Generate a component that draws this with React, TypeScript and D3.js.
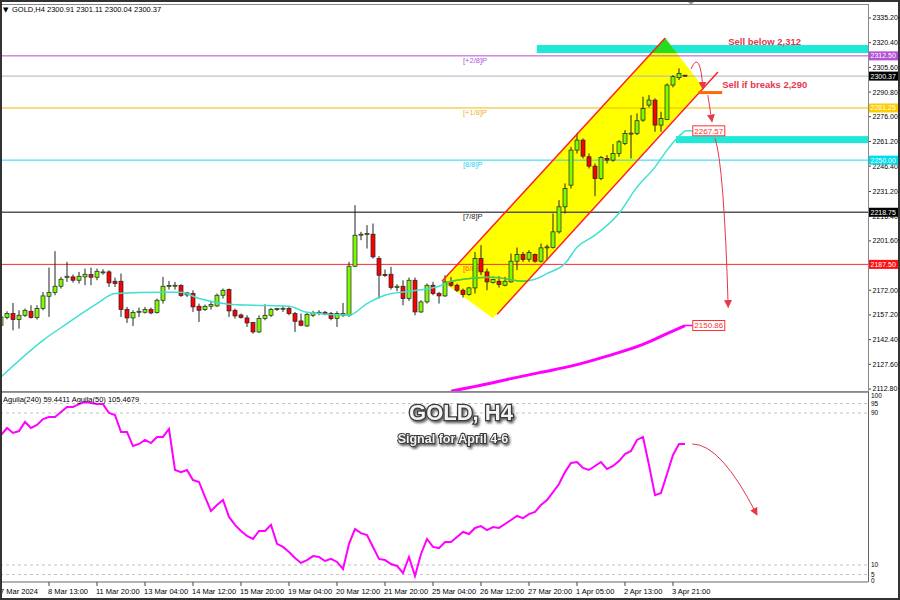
import * as d3 from "d3";

// [open, high, low, close] per H4 bar, 7 Mar 2024 -> 4 Apr 2024
const candles: [number, number, number, number][] = [
  [2151, 2157, 2150, 2156], [2155.6, 2159.4, 2154.6, 2158], [2158, 2164.4, 2148, 2154.4], [2154.4, 2160, 2149, 2157],
  [2157, 2161, 2156, 2160], [2159.4, 2163, 2155, 2155.6], [2155.6, 2163, 2154.4, 2161], [2161, 2171, 2160, 2168.6],
  [2168.4, 2185.6, 2156, 2170.6], [2170.6, 2195.4, 2169, 2174.4], [2174.4, 2180, 2173, 2178.6], [2179.6, 2189, 2177, 2180.4],
  [2180, 2181.4, 2176.6, 2178], [2178, 2183, 2176, 2180.4], [2180, 2185, 2175, 2181.6], [2181.4, 2185.6, 2175, 2179.8],
  [2179.8, 2185, 2178, 2183.4], [2182.6, 2184.6, 2181.4, 2183], [2183, 2184, 2174, 2176.4], [2177.4, 2179.6, 2174, 2176],
  [2177.4, 2182, 2156, 2160.4], [2160.4, 2162, 2152.4, 2155.4], [2155.4, 2160, 2150.6, 2158.6], [2158.8, 2161.6, 2156, 2159.4],
  [2158.8, 2162, 2158, 2160.4], [2160.4, 2161.6, 2157.6, 2158.4], [2158.6, 2167, 2158, 2166], [2166, 2180, 2164, 2174.4],
  [2174.4, 2177.6, 2172.4, 2174.8], [2174.4, 2177, 2172.4, 2175], [2174.8, 2175.6, 2168, 2168.8], [2169.2, 2171, 2168, 2170.4],
  [2170, 2172, 2159, 2162], [2162.4, 2164, 2153, 2160], [2160.4, 2163.4, 2159.6, 2162.4], [2162.4, 2165, 2160.4, 2163.4],
  [2162.6, 2170, 2162, 2169], [2169, 2173, 2167, 2172], [2172.4, 2173, 2156, 2159.6], [2160, 2161, 2155, 2156.6],
  [2157.2, 2158, 2155, 2155.6], [2155.4, 2157, 2150, 2152.4], [2152.6, 2153, 2146, 2147], [2147, 2157, 2146.4, 2155],
  [2155, 2163.6, 2154, 2157], [2157, 2161.4, 2156, 2160.4], [2160.4, 2161.4, 2159.6, 2161], [2160.6, 2162.4, 2159, 2161.2],
  [2161, 2162.4, 2157, 2158], [2158, 2159, 2147, 2153.4], [2153.6, 2158, 2150.4, 2151], [2150.6, 2158.4, 2150, 2157.4],
  [2157, 2159.6, 2156, 2158.6], [2158, 2160, 2157, 2158.8], [2158.8, 2159.6, 2157, 2157.6], [2158, 2159, 2154, 2155],
  [2155, 2159.4, 2150, 2158], [2157, 2164.4, 2156, 2158], [2157, 2189, 2156, 2186.4], [2186.4, 2223, 2186, 2205],
  [2205, 2207, 2202, 2205.6], [2205.4, 2211, 2197, 2206], [2205.6, 2212, 2191, 2192], [2191, 2192.4, 2167, 2181],
  [2181.4, 2184.4, 2180, 2181], [2181.6, 2186, 2172.4, 2173.6], [2173.6, 2175.6, 2171.4, 2174.4], [2174.4, 2178, 2163, 2167],
  [2167, 2179.6, 2165.6, 2178], [2178, 2179.6, 2157, 2159], [2159, 2166, 2158.4, 2165], [2165, 2176, 2164, 2175],
  [2175, 2177, 2169, 2170], [2170, 2171, 2164, 2168.6], [2168.6, 2181, 2168, 2177], [2177, 2180, 2174, 2175],
  [2175, 2176, 2171, 2172], [2172, 2173, 2167.6, 2169.4], [2169.4, 2174, 2168.8, 2173.4], [2173.4, 2195, 2170, 2191],
  [2191, 2199, 2181, 2183], [2183, 2185, 2172, 2177], [2176.6, 2179, 2176, 2178.4], [2177.4, 2180.4, 2173.6, 2175.4],
  [2175, 2180, 2174.4, 2177.4], [2177, 2194, 2176.6, 2189.4], [2189.4, 2197.6, 2184, 2193.4], [2193.4, 2195, 2189, 2190.4],
  [2190.6, 2196, 2189, 2194.6], [2193.4, 2194, 2188.6, 2189.4], [2189.4, 2200, 2188.6, 2197.4], [2197.4, 2199.4, 2190, 2198],
  [2197.6, 2218, 2197, 2207], [2207, 2226, 2206, 2222], [2222, 2236, 2218, 2233], [2235, 2258, 2233, 2256],
  [2256, 2266, 2254, 2262], [2262, 2263, 2251, 2252.4], [2252, 2254, 2245, 2246.4], [2246.4, 2248, 2228.4, 2239],
  [2239, 2252.5, 2238, 2251.6], [2251, 2253, 2248, 2250], [2250, 2259.6, 2249, 2254], [2254, 2262, 2252, 2261],
  [2260, 2268, 2259, 2266], [2266, 2277, 2251, 2266.2], [2266, 2278, 2265, 2273.6], [2274, 2288, 2273, 2281],
  [2283, 2289, 2281.6, 2286], [2286, 2287, 2267, 2271], [2271, 2279, 2267, 2275], [2274.4, 2296, 2274, 2295],
  [2295, 2301, 2293.6, 2300], [2299.4, 2305, 2298, 2302], [2300.91, 2301.11, 2300.04, 2300.37],
];

// [bar index, price]
const maFast: [number, number][] = [
  [0, 2120], [7, 2142], [11, 2152], [16, 2164], [19, 2170], [27, 2170.8], [30, 2170.8], [33, 2167],
  [38, 2163.6], [42, 2163], [48, 2162.4], [51, 2158.8], [58, 2157], [61, 2164], [64, 2169], [68, 2171.4],
  [73, 2174.4], [75, 2177.4], [82, 2179.8], [87, 2177.4], [89, 2178.6], [91, 2182], [94, 2188], [96, 2197.8],
  [99, 2205], [103, 2218.2], [106, 2233.8], [109, 2245.8], [111, 2256], [113, 2264.4], [114, 2267.57],
];
const maSlow: [number, number][] = [
  [75, 2111.5], [80, 2115], [85, 2119], [90, 2122.8], [95, 2126.5], [101, 2132.5], [107, 2139.5], [111, 2146], [114, 2150.86],
];

const aguila = [
  78.4, 82.1, 79.5, 80.5, 85.3, 82.1, 83.7, 86.8, 87.9, 87.9, 90.5, 93.2, 93.2, 94.7, 95.8, 95.3,
  94.7, 94.7, 90, 88.9, 80, 80, 72.6, 73.7, 75.8, 74.2, 77.4, 77.4, 81.6, 60, 58.9, 60,
  54.7, 53.7, 45.8, 38.4, 41.6, 44.2, 35.3, 31.1, 27.9, 25.3, 23.7, 27.9, 27.9, 31.1, 21.1, 19.5,
  16.8, 13.7, 11.1, 12.6, 14.7, 14.2, 12.1, 13.2, 11.6, 7.9, 21.1, 28.9, 26.8, 25.8, 19.5, 13.2,
  12.6, 10.5, 9.5, 5.8, 14.2, 4.2, 15.8, 23.7, 19.5, 18.9, 22.1, 22.1, 24.7, 27.4, 26.3, 29.5,
  30.5, 28.4, 30, 29.5, 31.6, 33.7, 35.8, 34.7, 36.8, 37.9, 41.6, 44.2, 48.4, 52.6, 58.9, 63.7,
  64.2, 61.1, 60, 62.1, 64.2, 60.5, 62.1, 64.7, 68.4, 70, 75.8, 77.4, 62.6, 46.8, 47.9, 57.9,
  67.9, 73.7, 73.7,
];

const priceTicks = [2335.2, 2320.4, 2305.6, 2290.8, 2276.0, 2261.2, 2246.4, 2231.2, 2216.4, 2201.6, 2172.0, 2157.2, 2142.4, 2127.6, 2112.8];
const timeLabels = ["7 Mar 2024", "8 Mar 13:00", "11 Mar 20:00", "13 Mar 04:00", "14 Mar 12:00", "15 Mar 20:00", "19 Mar 04:00",
  "20 Mar 12:00", "21 Mar 20:00", "25 Mar 04:00", "26 Mar 12:00", "27 Mar 20:00", "1 Apr 05:00", "2 Apr 13:00", "3 Apr 21:00"];
const levelValues = [2312.5, 2281.25, 2250, 2218.75, 2187.5];
const levelNames = ["[+2/8]P", "[+1/8]P", "[8/8]P", "[7/8]P", "[6/8]P"];
const bidPrice = 2300.37;
const indLevels = [95, 90, 10, 5];
const indLabels = [100, 95, 90, 10, 5, 0];

// drawn objects, in [bar index, price]
const channelArea: [number, number][] = [[73.5, 2177.4], [110.7, 2323.2], [117, 2293.8], [82, 2155.2]];
const channelUpper: [number, number][] = [[73.5, 2177.4], [110.7, 2323.2]];
const channelLower: [number, number][] = [[82.7, 2157.6], [119.5, 2302.8]];
const zoneTop: [number, number, number] = [89.3, 2314.2, 2319];
const zoneLow: [number, number, number] = [112.5, 2260.2, 2264.4];
const sellBreak: [number, number, number] = [116.2, 120.2, 2290.5];
const arrowA: [number, number][] = [[115, 2304.6], [116.5, 2317.2], [117, 2292.6]];
const arrowB: [number, number][] = [[117.8, 2289], [118.5, 2273]];
const arrowC: [number, number][] = [[119, 2263.2], [120.5, 2247], [121.2, 2161.8]];
const arrowInd: [number, number][] = [[115.2, 73.7], [120, 73.7], [126, 36.3]];

const font = "'Liberation Sans', Arial, sans-serif";
const levelColors = ["#b24fd6", "#f2b705", "#22d6f2", "#555555", "#ff2a2a"];
const levelTextColors = ["#b24fd6", "#f0b030", "#22d0f0", "#222222", "#ff5a1a"];
const levelBg = ["#b452d8", "#ffcc00", "#00dcf0", "#000000", "#ff1010"];
const RED = "#e8364a";

export default function App() {
  const x = d3.scaleLinear().domain([0, 144]).range([1, 865]);
  const y = d3.scaleLinear().domain([2112.8, 2335.2]).range([389, 18]);
  const yi = d3.scaleLinear().domain([10, 90]).range([565, 413]);
  const pt = (d: [number, number]) => [x(d[0]), y(d[1])];
  const maLine = d3.line<[number, number]>().x((d) => x(d[0])).y((d) => y(d[1])).curve(d3.curveMonotoneX);
  const indLine = d3.line<number>().x((_, i) => x(i)).y((d) => yi(d));
  const poly = channelArea.map(pt).map((p) => p.join(",")).join(" ");
  const quad = (pts: number[][]) => {
    const p = d3.path();
    p.moveTo(pts[0][0], pts[0][1]);
    p.quadraticCurveTo(pts[1][0], pts[1][1], pts[2][0], pts[2][1]);
    return p.toString();
  };
  const R = 868;
  const lastFast = maFast[maFast.length - 1];
  const lastSlow = maSlow[maSlow.length - 1];

  const priceLabel = (v: number, bg: string, key: string) => (
    <g key={key}>
      <rect x={869} y={y(v) - 4.5} width={30} height={9} fill={bg} />
      <text x={870.5} y={y(v)} dy="0.35em" fontSize={7} fill="#fff" fontFamily={font}>{v.toFixed(2)}</text>
    </g>
  );
  const valueBox = (d: [number, number], key: string) => (
    <g key={key}>
      <rect x={x(115.3)} y={y(d[1]) - 5} width={32} height={10} fill="#fff" stroke="#ff3030" strokeWidth={1} />
      <text x={x(115.3) + 16} y={y(d[1])} dy="0.35em" textAnchor="middle" fontSize={8} fill="#ff3030" fontFamily={font}>{d[1].toFixed(2)}</text>
    </g>
  );

  return (
    <svg width={900} height={600} style={{ position: "absolute", left: 0, top: 0, background: "#fff" }}>
      <defs>
        <clipPath id="main"><rect x={1} y={5} width={R - 1} height={386} /></clipPath>
        <clipPath id="chan"><polygon points={poly} /></clipPath>
        <clipPath id="ind"><rect x={1} y={393} width={R - 1} height={188} /></clipPath>
        <marker id="ah" viewBox="0 0 10 10" refX={9} refY={5} markerWidth={8} markerHeight={8} markerUnits="userSpaceOnUse" orient="auto">
          <path d="M0,0 L10,5 L0,10 z" fill={RED} />
        </marker>
        <filter id="sh" x="-10%" y="-30%" width="130%" height="170%">
          <feDropShadow dx={1.5} dy={2} stdDeviation={1} floodColor="#000" floodOpacity={0.6} />
        </filter>
      </defs>
      <rect width={900} height={600} fill="#fff" />

      {/* main panel */}
      <g clipPath="url(#main)">
        <polygon points={poly} fill="#ffff00" />
        <rect x={x(zoneTop[0])} y={y(zoneTop[2])} width={R - x(zoneTop[0])} height={y(zoneTop[1]) - y(zoneTop[2])} fill="#1de9d6" />
        <rect x={x(zoneLow[0])} y={y(zoneLow[2])} width={R - x(zoneLow[0])} height={y(zoneLow[1]) - y(zoneLow[2])} fill="#1de9d6" />
        <g clipPath="url(#chan)">
          <rect x={x(zoneTop[0])} y={0} width={R - x(zoneTop[0])} height={y(zoneTop[1])} fill="#22dd22" />
        </g>

        {levelValues.map((v, i) => (
          <line key={"l" + i} x1={0} x2={R} y1={y(v)} y2={y(v)} stroke={levelColors[i]} strokeWidth={i === 3 ? 1.3 : 1} />
        ))}
        <line x1={0} x2={R} y1={y(bidPrice)} y2={y(bidPrice)} stroke="#a8b0c0" strokeWidth={1} />
        {levelValues.map((v, i) => (
          <text key={"n" + i} x={x(77)} y={y(v) + 7} fontSize={7.5} fill={levelTextColors[i]} fontFamily={font}>{levelNames[i]}</text>
        ))}

        {candles.map((c, i) => {
          const [o, h, l, cl] = c;
          const up = cl >= o;
          const top = y(Math.max(o, cl));
          const bh = Math.max(1, y(Math.min(o, cl)) - top);
          return (
            <g key={"c" + i}>
              <line x1={x(i)} x2={x(i)} y1={y(h)} y2={y(l)} stroke="#222" strokeWidth={1} />
              <rect x={x(i) - 2} y={top} width={4} height={bh} fill={up ? "#7cfc00" : "#ff0000"} stroke="#222" strokeWidth={0.7} />
            </g>
          );
        })}

        <path d={maLine(maFast) ?? ""} fill="none" stroke="#40e0d0" strokeWidth={1.5} />
        <path d={maLine(maFast) ?? ""} fill="none" stroke="#5fc41f" strokeWidth={1.5} clipPath="url(#chan)" />
        <line x1={x(lastFast[0])} x2={x(115.3)} y1={y(lastFast[1])} y2={y(lastFast[1])} stroke="#40e0d0" strokeWidth={1.5} />
        <path d={maLine(maSlow) ?? ""} fill="none" stroke="#ff00ff" strokeWidth={3} />
        <line x1={x(lastSlow[0])} x2={x(115.3)} y1={y(lastSlow[1])} y2={y(lastSlow[1])} stroke="#ff00ff" strokeWidth={1.5} />

        <line x1={pt(channelUpper[0])[0]} y1={pt(channelUpper[0])[1]} x2={pt(channelUpper[1])[0]} y2={pt(channelUpper[1])[1]} stroke="#ff2020" strokeWidth={1.5} />
        <line x1={pt(channelLower[0])[0]} y1={pt(channelLower[0])[1]} x2={pt(channelLower[1])[0]} y2={pt(channelLower[1])[1]} stroke="#ff2020" strokeWidth={1.5} />

        <line x1={x(sellBreak[0])} x2={x(sellBreak[1])} y1={y(sellBreak[2])} y2={y(sellBreak[2])} stroke="#ff6a00" strokeWidth={3} />
        <path d={quad(arrowA.map(pt))} fill="none" stroke={RED} strokeWidth={1} markerEnd="url(#ah)" />
        <line x1={pt(arrowB[0])[0]} y1={pt(arrowB[0])[1]} x2={pt(arrowB[1])[0]} y2={pt(arrowB[1])[1]} stroke={RED} strokeWidth={1} markerEnd="url(#ah)" />
        <path d={quad(arrowC.map(pt))} fill="none" stroke={RED} strokeWidth={1} markerEnd="url(#ah)" />

        <text x={x(121.2)} y={y(2320.8)} dy="0.35em" fontSize={9.5} fontWeight="bold" fill={RED} fontFamily={font}>Sell below 2,312</text>
        <text x={x(120.2)} y={y(2295)} dy="0.35em" fontSize={9.5} fontWeight="bold" fill={RED} fontFamily={font}>Sell if breaks 2,290</text>
        {valueBox(lastFast, "vf")}
        {valueBox(lastSlow, "vs")}
      </g>

      {/* header */}
      <text x={3} y={12} fontSize={7} fontFamily="'DejaVu Sans', sans-serif" fill="#000">▼</text>
      <text x={12} y={12} fontSize={7.5} fontFamily={font} fill="#000">GOLD,H4  2300.91 2301.11 2300.04 2300.37</text>

      {/* price axis */}
      <line x1={R + 0.5} x2={R + 0.5} y1={4} y2={582} stroke="#666" />
      {priceTicks.map((v) => (
        <g key={"t" + v}>
          <line x1={R} x2={R + 3} y1={y(v)} y2={y(v)} stroke="#444" />
          <text x={872.5} y={y(v)} dy="0.35em" fontSize={7} fontFamily={font} fill="#000">{v.toFixed(2)}</text>
        </g>
      ))}
      {levelValues.map((v, i) => priceLabel(v, levelBg[i], "pl" + i))}
      {priceLabel(bidPrice, "#000", "bid")}

      {/* indicator panel */}
      <line x1={0} x2={R} y1={392} y2={392} stroke="#999" strokeWidth={2} />
      {indLevels.map((v) => (
        <line key={"il" + v} x1={0} x2={R} y1={yi(v)} y2={yi(v)} stroke="#c4c4c4" strokeDasharray="3,3" />
      ))}
      {indLabels.map((v) => (
        <text key={"ilb" + v} x={871} y={Math.max(396, Math.min(581, yi(v)))} dy="0.35em" fontSize={6.5} fontFamily={font} fill="#000">{v}</text>
      ))}
      <g clipPath="url(#ind)">
        <path d={indLine(aguila) ?? ""} fill="none" stroke="#ff00ff" strokeWidth={2} />
        <path d={quad(arrowInd.map((d) => [x(d[0]), yi(d[1])]))} fill="none" stroke={RED} strokeWidth={1} markerEnd="url(#ah)" />
      </g>
      <text x={3} y={402} fontSize={7.5} fontFamily={font} fill="#000">Aguila(240) 59.4411  Aguila(50) 105.4679</text>

      <g filter="url(#sh)" fontFamily={font} fontWeight="bold" textAnchor="middle" fill="#f4f4f4" stroke="#3a3a3a" style={{ paintOrder: "stroke" }}>
        <text x={461} y={420} fontSize={22} strokeWidth={2.5}>GOLD, H4</text>
        <text x={453} y={443} fontSize={12.5} strokeWidth={2}>Signal for April 4-6</text>
      </g>

      {/* time axis */}
      <line x1={0} x2={R} y1={582} y2={582} stroke="#666" />
      {timeLabels.map((t, k) => (
        <g key={"x" + k}>
          <line x1={x(k * 8)} x2={x(k * 8)} y1={582} y2={586} stroke="#444" />
          <text x={x(k * 8) - 1} y={594} fontSize={7.5} fontFamily={font} fill="#000">{t}</text>
        </g>
      ))}

      {/* frame */}
      <polygon points={`${x(115) - 4},1 ${x(115) + 4},1 ${x(115)},5`} fill="#999" />
      <rect x={0.5} y={4.5} width={R} height={387} fill="none" stroke="#888" />
      <rect x={1} y={1} width={898} height={598} fill="none" stroke="#333" strokeWidth={2} />
    </svg>
  );
}
